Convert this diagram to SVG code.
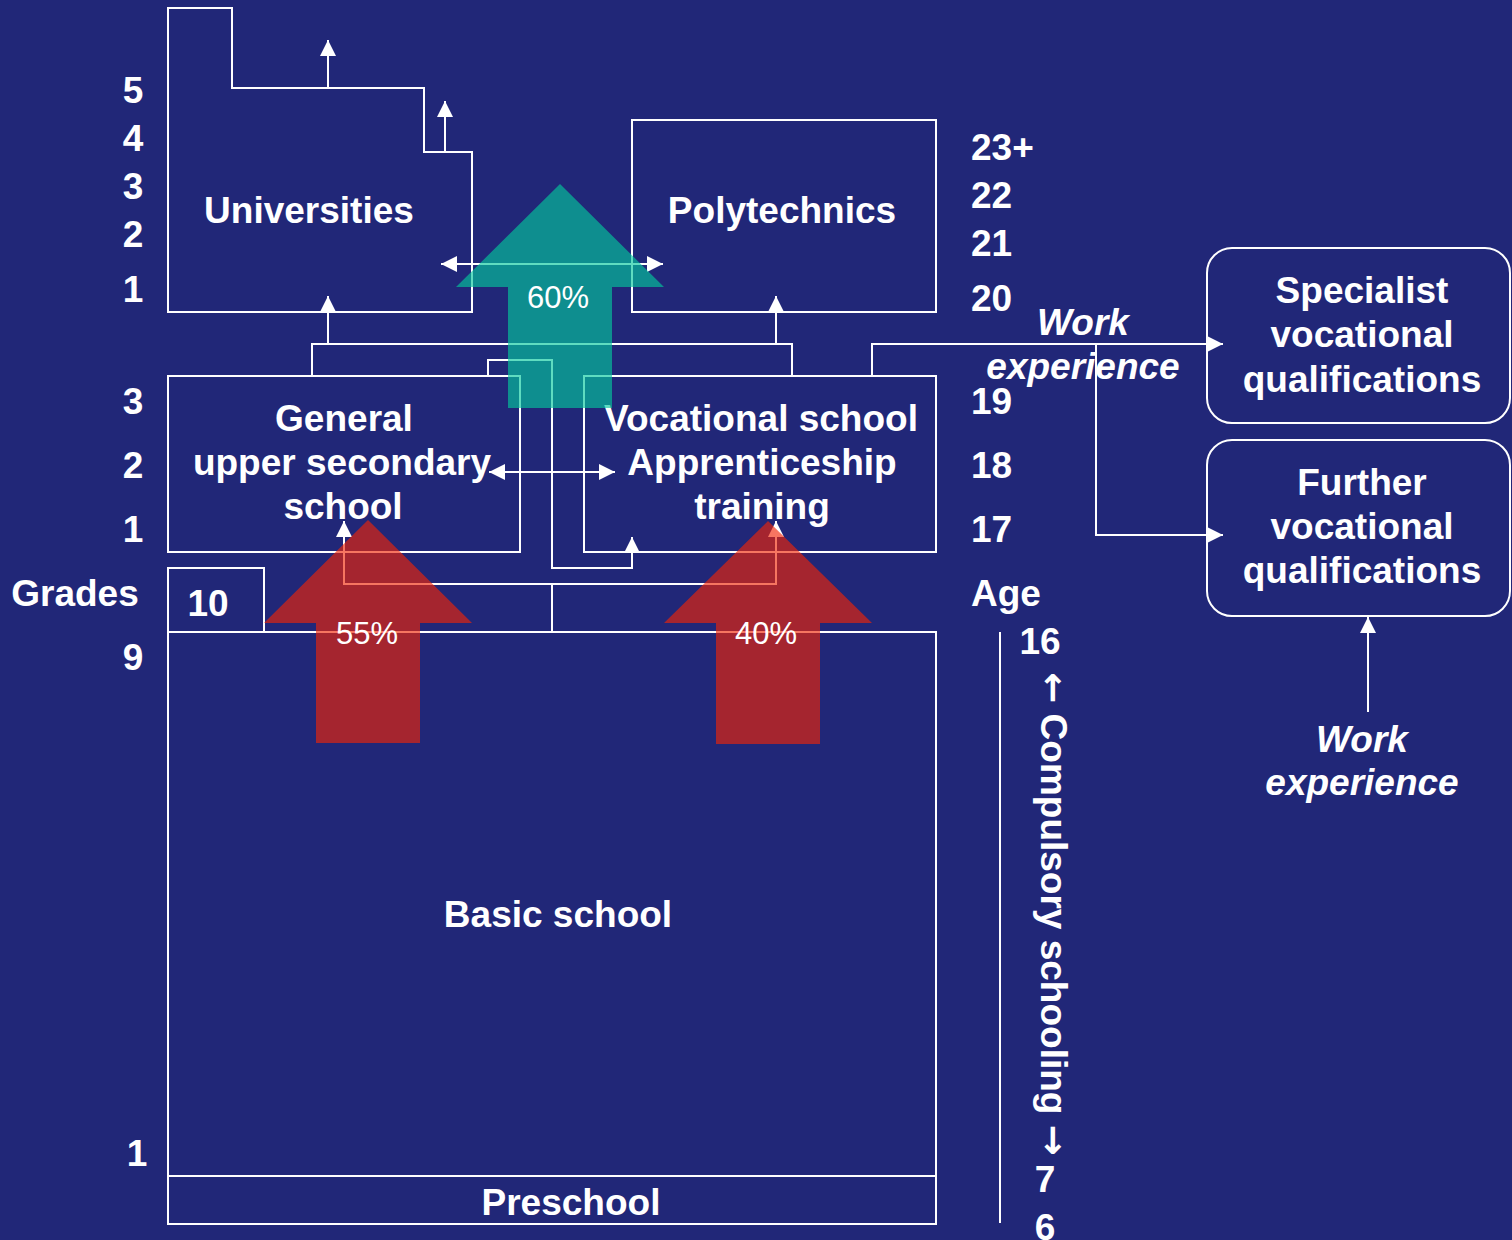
<svg xmlns="http://www.w3.org/2000/svg" width="1512" height="1240" viewBox="0 0 1512 1240">
<defs>
<style>
.box{fill:none;stroke:#fff;stroke-width:2}
.ln{fill:none;stroke:#fff;stroke-width:2}
.t{font-family:"Liberation Sans",Arial,sans-serif;font-weight:bold;font-size:37px;fill:#fff}
.c{text-anchor:middle}
.it{font-style:italic}
.arw{font-family:"DejaVu Sans",sans-serif;font-weight:bold}
.pct{font-family:"Liberation Sans",Arial,sans-serif;font-size:31px;fill:#fff;text-anchor:middle}
.red{fill:#f32505;opacity:0.63}
.teal{fill:#04c99c;opacity:0.64}
</style>
<marker id="ah" viewBox="0 0 16 16" refX="16" refY="8" markerWidth="16" markerHeight="16" markerUnits="userSpaceOnUse" orient="auto-start-reverse">
<path d="M0,0 L16,8 L0,16 z" fill="#fff"/>
</marker>
</defs>
<rect x="0" y="0" width="1512" height="1240" fill="#212778"/>

<g id="universities">
<path class="box" d="M168,8 H232 V88 H424 V152 H472 V312 H168 Z"/>
<text class="t c" x="309" y="223">Universities</text>
</g>
<g id="polytechnics">
<rect class="box" x="632" y="120" width="304" height="192"/>
<text class="t c" x="782" y="223">Polytechnics</text>
</g>
<g id="general-upper-secondary">
<rect class="box" x="168" y="376" width="352" height="176"/>
<text class="t c" x="344" y="431">General</text>
<text class="t c" x="342" y="475">upper secondary</text>
<text class="t c" x="343" y="519">school</text>
</g>
<g id="vocational-school">
<rect class="box" x="584" y="376" width="352" height="176"/>
<text class="t c" x="761" y="431">Vocational school</text>
<text class="t c" x="762" y="475">Apprenticeship</text>
<text class="t c" x="762" y="519">training</text>
</g>
<g id="grade10">
<rect class="box" x="168" y="568" width="96" height="64"/>
<text class="t c" x="208" y="616">10</text>
</g>
<g id="basic-school">
<rect class="box" x="168" y="632" width="768" height="544"/>
<text class="t c" x="558" y="927">Basic school</text>
</g>
<g id="preschool">
<rect class="box" x="168" y="1176" width="768" height="48"/>
<text class="t c" x="571" y="1215">Preschool</text>
</g>
<g id="specialist">
<rect class="box" x="1207" y="248" width="303" height="175" rx="25"/>
<text class="t c" x="1362" y="303">Specialist</text>
<text class="t c" x="1362" y="347">vocational</text>
<text class="t c" x="1362" y="392">qualifications</text>
</g>
<g id="further">
<rect class="box" x="1207" y="440" width="303" height="176" rx="25"/>
<text class="t c" x="1362" y="495">Further</text>
<text class="t c" x="1362" y="539">vocational</text>
<text class="t c" x="1362" y="583">qualifications</text>
</g>

<g id="connectors">
<path class="ln" d="M328,88 V40" marker-end="url(#ah)"/>
<path class="ln" d="M445,152 V101" marker-end="url(#ah)"/>
<path class="ln" d="M441,264 H663" marker-start="url(#ah)" marker-end="url(#ah)"/>
<path class="ln" d="M312,376 V344 H792 V376"/>
<path class="ln" d="M328,344 V296" marker-end="url(#ah)"/>
<path class="ln" d="M776,344 V296" marker-end="url(#ah)"/>
<path class="ln" d="M872,376 V344 H1223" marker-end="url(#ah)"/>
<path class="ln" d="M1096,344 V535 H1223" marker-end="url(#ah)"/>
<path class="ln" d="M488,376 V360 H552 V568 H632 V537" marker-end="url(#ah)"/>
<path class="ln" d="M489,472 H615" marker-start="url(#ah)" marker-end="url(#ah)"/>
<path class="ln" d="M552,632 V584 H344 V521" marker-end="url(#ah)"/>
<path class="ln" d="M552,584 H776 V521" marker-end="url(#ah)"/>
<path class="ln" d="M1368,712 V617" marker-end="url(#ah)"/>
<path class="ln" d="M1000,632 V1223"/>
</g>

<g id="flow-arrows">
<path class="teal" d="M560,184 L664,287 H612 V408 H508 V287 H456 Z"/>
<path class="red" d="M368,520 L472,623 H420 V743 H316 V623 H264 Z"/>
<path class="red" d="M768,521 L872,623 H820 V744 H716 V623 H664 Z"/>
<text class="pct" x="558" y="308">60%</text>
<text class="pct" x="367" y="644">55%</text>
<text class="pct" x="766" y="644">40%</text>
</g>

<g id="grades">
<text class="t c" x="133" y="103">5</text>
<text class="t c" x="133" y="151">4</text>
<text class="t c" x="133" y="199">3</text>
<text class="t c" x="133" y="247">2</text>
<text class="t c" x="133" y="302">1</text>
<text class="t c" x="133" y="414">3</text>
<text class="t c" x="133" y="478">2</text>
<text class="t c" x="133" y="542">1</text>
<text class="t c" x="75" y="606">Grades</text>
<text class="t c" x="133" y="670">9</text>
<text class="t c" x="137" y="1166">1</text>
</g>
<g id="ages">
<text class="t" x="971" y="160">23+</text>
<text class="t" x="971" y="208">22</text>
<text class="t" x="971" y="256">21</text>
<text class="t" x="971" y="311">20</text>
<text class="t" x="971" y="414">19</text>
<text class="t" x="971" y="478">18</text>
<text class="t" x="971" y="542">17</text>
<text class="t" x="971" y="606">Age</text>
<text class="t c" x="1040" y="654">16</text>
<text class="t c" x="1045" y="1192">7</text>
<text class="t c" x="1045" y="1240">6</text>
<text class="t c" transform="translate(1041,914) rotate(90)" x="0" y="0"><tspan class="arw">←</tspan> Compulsory schooling <tspan class="arw">→</tspan></text>
</g>
<g id="work-experience-labels">
<text class="t c it" x="1083" y="335">Work</text>
<text class="t c it" x="1083" y="379">experience</text>
<text class="t c it" x="1362" y="752">Work</text>
<text class="t c it" x="1362" y="795">experience</text>
</g>
</svg>
